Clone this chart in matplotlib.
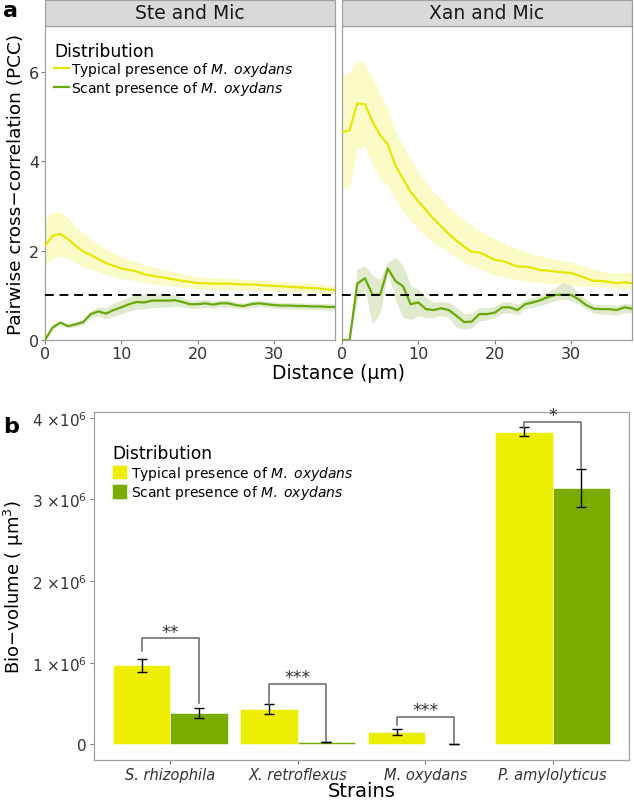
import matplotlib

matplotlib.use("Agg")
import matplotlib.pyplot as plt
from matplotlib.lines import Line2D
from matplotlib.patches import Patch, Rectangle
import numpy as np

plt.rcParams.update({
    "font.family": "DejaVu Sans",
    "mathtext.fontset": "dejavusans",
    "axes.edgecolor": "#a0a0a0",
    "axes.linewidth": 0.9,
    "xtick.color": "#7f7f7f",
    "ytick.color": "#7f7f7f",
    "xtick.labelcolor": "#333333",
    "ytick.labelcolor": "#333333",
})

YEL = "#eeee00"
GRN = "#7aac00"
YEL_LINE = "#e6e600"
GRN_LINE = "#6aa80c"
YEL_FILL = "#fbfbc8"
GRN_FILL = "#dfebcc"

LAB_TYP = r"Typical presence of $\mathit{M.\;oxydans}$"
LAB_SCA = r"Scant presence of $\mathit{M.\;oxydans}$"

# ---- panel a: pairwise cross-correlation vs distance ----
dist = np.arange(0, 39)

ste_typ = [2.11, 2.33, 2.37, 2.26, 2.11, 1.98, 1.90, 1.81, 1.72, 1.66,
           1.60, 1.57, 1.53, 1.47, 1.44, 1.41, 1.38, 1.35, 1.32, 1.30,
           1.27, 1.27, 1.26, 1.26, 1.26, 1.25, 1.24, 1.24, 1.23, 1.22,
           1.21, 1.20, 1.19, 1.18, 1.17, 1.16, 1.15, 1.13, 1.12]
ste_typ_lo = [1.66, 1.82, 1.88, 1.82, 1.72, 1.64, 1.58, 1.52, 1.46, 1.42,
              1.37, 1.35, 1.32, 1.28, 1.26, 1.24, 1.22, 1.20, 1.18, 1.16,
              1.14, 1.14, 1.13, 1.13, 1.13, 1.12, 1.12, 1.12, 1.11, 1.10,
              1.10, 1.09, 1.08, 1.07, 1.06, 1.06, 1.05, 1.04, 1.03]
ste_typ_hi = [2.71, 2.86, 2.86, 2.72, 2.54, 2.38, 2.26, 2.14, 2.03, 1.94,
              1.85, 1.80, 1.75, 1.68, 1.64, 1.60, 1.56, 1.52, 1.48, 1.45,
              1.41, 1.40, 1.39, 1.39, 1.38, 1.37, 1.36, 1.35, 1.34, 1.33,
              1.32, 1.31, 1.30, 1.29, 1.28, 1.27, 1.26, 1.23, 1.22]
ste_sca = [0.00, 0.28, 0.39, 0.31, 0.35, 0.40, 0.58, 0.64, 0.59, 0.67,
           0.73, 0.80, 0.85, 0.84, 0.88, 0.88, 0.88, 0.89, 0.85, 0.80,
           0.80, 0.82, 0.79, 0.82, 0.82, 0.78, 0.76, 0.80, 0.82, 0.80,
           0.78, 0.77, 0.77, 0.76, 0.76, 0.75, 0.75, 0.74, 0.74]
ste_sca_lo = [0.00, 0.25, 0.35, 0.27, 0.30, 0.34, 0.50, 0.54, 0.47, 0.53,
              0.58, 0.65, 0.69, 0.69, 0.72, 0.73, 0.74, 0.76, 0.74, 0.71,
              0.71, 0.73, 0.71, 0.74, 0.74, 0.71, 0.69, 0.73, 0.75, 0.73,
              0.71, 0.70, 0.70, 0.69, 0.69, 0.68, 0.68, 0.67, 0.67]
ste_sca_hi = [0.00, 0.31, 0.43, 0.35, 0.40, 0.46, 0.66, 0.74, 0.72, 0.82,
              0.89, 0.96, 1.03, 1.02, 1.04, 1.03, 1.02, 1.01, 0.96, 0.89,
              0.89, 0.91, 0.87, 0.90, 0.90, 0.85, 0.83, 0.87, 0.89, 0.87,
              0.85, 0.84, 0.84, 0.83, 0.83, 0.82, 0.82, 0.81, 0.81]

xan_typ = [4.65, 4.69, 5.29, 5.27, 4.88, 4.58, 4.37, 3.90, 3.60, 3.31,
           3.10, 2.91, 2.71, 2.54, 2.37, 2.22, 2.09, 1.97, 1.96, 1.88,
           1.79, 1.77, 1.71, 1.64, 1.64, 1.61, 1.56, 1.55, 1.53, 1.51,
           1.50, 1.44, 1.38, 1.32, 1.32, 1.30, 1.27, 1.29, 1.27]
xan_typ_lo = [3.38, 3.42, 4.24, 4.35, 3.90, 3.60, 3.46, 3.16, 2.86, 2.67,
              2.48, 2.33, 2.18, 2.07, 1.96, 1.85, 1.74, 1.66, 1.59, 1.52,
              1.44, 1.41, 1.38, 1.35, 1.32, 1.29, 1.28, 1.27, 1.26, 1.24,
              1.23, 1.22, 1.21, 1.20, 1.19, 1.17, 1.16, 1.15, 1.14]
xan_typ_hi = [5.92, 5.98, 6.28, 6.19, 5.85, 5.51, 5.18, 4.65, 4.35, 4.05,
              3.75, 3.53, 3.31, 3.15, 2.98, 2.82, 2.68, 2.56, 2.46, 2.36,
              2.26, 2.18, 2.11, 2.04, 1.98, 1.92, 1.88, 1.84, 1.80, 1.77,
              1.74, 1.69, 1.63, 1.57, 1.54, 1.51, 1.50, 1.50, 1.50]
xan_sca = [0.00, 0.00, 1.26, 1.38, 1.01, 1.01, 1.60, 1.32, 1.20, 0.80,
           0.84, 0.69, 0.67, 0.71, 0.67, 0.54, 0.40, 0.41, 0.58, 0.58,
           0.61, 0.73, 0.73, 0.67, 0.80, 0.84, 0.89, 0.96, 1.01, 1.01,
           1.01, 0.91, 0.78, 0.70, 0.69, 0.69, 0.67, 0.73, 0.70]
xan_sca_lo = [0.00, 0.00, 0.91, 1.14, 0.35, 0.61, 1.51, 0.91, 0.50, 0.46,
              0.54, 0.50, 0.50, 0.55, 0.50, 0.28, 0.24, 0.28, 0.43, 0.45,
              0.50, 0.60, 0.61, 0.56, 0.70, 0.73, 0.77, 0.83, 0.88, 0.91,
              0.88, 0.80, 0.69, 0.60, 0.58, 0.58, 0.56, 0.61, 0.61]
xan_sca_hi = [0.00, 0.00, 1.59, 1.66, 1.44, 1.36, 1.74, 1.85, 1.66, 1.21,
              1.14, 0.95, 0.84, 0.86, 0.84, 0.73, 0.58, 0.60, 0.73, 0.72,
              0.75, 0.85, 0.85, 0.79, 0.90, 0.95, 1.00, 1.08, 1.17, 1.29,
              1.22, 1.05, 0.90, 0.80, 0.79, 0.79, 0.77, 0.82, 0.80]

facets = [
    ("Ste and Mic", ste_typ, ste_typ_lo, ste_typ_hi, ste_sca, ste_sca_lo, ste_sca_hi),
    ("Xan and Mic", xan_typ, xan_typ_lo, xan_typ_hi, xan_sca, xan_sca_lo, xan_sca_hi),
]

# ---- panel b: bio-volume per strain ----
strains = ["S. rhizophila", "X. retroflexus", "M. oxydans", "P. amylolyticus"]
vol_typ = [0.97e6, 0.43e6, 0.155e6, 3.83e6]
vol_typ_err = [0.08e6, 0.06e6, 0.04e6, 0.055e6]
vol_sca = [0.385e6, 0.03e6, 0.005e6, 3.14e6]
vol_sca_err = [0.06e6, 0.005e6, 0.003e6, 0.23e6]
sig_labels = ["**", "***", "***", "*"]
sig_y = [1.30e6, 0.74e6, 0.34e6, 3.95e6]
sig_left_end = [1.14e6, 0.50e6, 0.24e6, 3.88e6]
sig_right_end = [0.51e6, 0.04e6, 0.02e6, 3.38e6]

W, H = 634, 803
fig = plt.figure(figsize=(W / 100, H / 100), dpi=100)


def box(l, t, r, b):
    return [l / W, 1 - b / H, (r - l) / W, (b - t) / H]


STRIP_H = 26 / 314  # strip height as a fraction of the facet height
axes_a = [fig.add_axes(box(45, 27, 335, 341)), fig.add_axes(box(342, 27, 632, 341))]
for i, (ax, (name, ty, tlo, thi, sc, slo, shi)) in enumerate(zip(axes_a, facets)):
    ax.fill_between(dist, tlo, thi, color=YEL_FILL, lw=0, zorder=1)
    ax.fill_between(dist, slo, shi, color=GRN_FILL, lw=0, zorder=1)
    ax.plot(dist, ty, color=YEL_LINE, lw=1.6, zorder=3)
    ax.plot(dist, sc, color=GRN_LINE, lw=1.6, zorder=3)
    ax.axhline(1, color="black", lw=1.4, ls=(0, (4.5, 3)), zorder=4)
    ax.set_xlim(0, 38)
    ax.set_ylim(0, 7.02)
    ax.set_xticks([0, 10, 20, 30])
    ax.set_yticks([0, 2, 4, 6])
    ax.tick_params(labelsize=11.5, length=3, pad=1)
    if i == 1:
        ax.tick_params(axis="y", left=False, labelleft=False)
    # facet strip
    ax.add_patch(Rectangle((0, 1), 1, STRIP_H, transform=ax.transAxes, clip_on=False,
                           fc="#d9d9d9", ec="#a0a0a0", lw=0.9, zorder=5))
    ax.text(0.5, 1 + STRIP_H / 2, name, transform=ax.transAxes, ha="center",
            va="center", fontsize=13.5, color="#1a1a1a", zorder=6)
axes_a[0].set_ylabel("Pairwise cross\u2212correlation (PCC)", fontsize=13.3, labelpad=3)
fig.text((45 + 632) / 2 / W, 1 - 374 / H, "Distance (\u03bcm)", ha="center", va="center",
         fontsize=13.5)

axes_a[0].legend(
    handles=[Line2D([], [], color=YEL_LINE, lw=1.6), Line2D([], [], color=GRN_LINE, lw=1.6)],
    labels=[LAB_TYP, LAB_SCA], title="Distribution", loc="upper left",
    bbox_to_anchor=(54 / W, 1 - 43 / H), bbox_transform=fig.transFigure,
    frameon=False, fontsize=10, title_fontsize=12.3, handlelength=1.1,
    handletextpad=0.15, labelspacing=0.02, borderpad=0, borderaxespad=0,
    alignment="left")

fig.text(3 / W, 1 - 11 / H, "a", fontsize=16, fontweight="bold", va="center")

# ---- panel b ----
axb = fig.add_axes(box(94, 413, 629, 761))
x = np.arange(len(strains))
bw = 0.45
axb.bar(x - bw / 2, vol_typ, bw, color=YEL, edgecolor="white", lw=0.4, zorder=2)
axb.bar(x + bw / 2, vol_sca, bw, color=GRN, edgecolor="white", lw=0.4, zorder=2)
axb.errorbar(x - bw / 2, vol_typ, yerr=vol_typ_err, fmt="none", ecolor="black",
             elinewidth=1.0, capsize=3.5, capthick=1.0, zorder=3)
axb.errorbar(x + bw / 2, vol_sca, yerr=vol_sca_err, fmt="none", ecolor="black",
             elinewidth=1.0, capsize=3.5, capthick=1.0, zorder=3)
for i in range(len(strains)):
    xl, xr = x[i] - bw / 2, x[i] + bw / 2
    axb.plot([xl, xl, xr, xr], [sig_left_end[i], sig_y[i], sig_y[i], sig_right_end[i]],
             color="#666666", lw=1.1, zorder=4)
    axb.text(x[i], sig_y[i] - 0.03e6, sig_labels[i], ha="center", va="bottom",
             fontsize=12.5, color="#333333", zorder=4)
axb.set_xlim(-0.6, 3.6)
axb.set_ylim(-0.19e6, 4.07e6)
axb.set_xticks(x)
axb.set_xticklabels(strains, fontstyle="italic", fontsize=10.5)
axb.set_yticks([0, 1e6, 2e6, 3e6, 4e6])
axb.set_yticklabels(["0"] + [r"$%d\ {\times}10^{6}$" % k for k in range(1, 5)],
                    fontsize=11)
axb.tick_params(length=3, pad=2)
axb.set_xlabel("Strains", fontsize=14, labelpad=-1)
axb.set_ylabel(r"Bio$-$volume ( $\mathregular{\mu m^3}$)", fontsize=13, labelpad=4)

axb.legend(
    handles=[Patch(fc=YEL, ec="white", lw=0.4), Patch(fc=GRN, ec="white", lw=0.4)],
    labels=[LAB_TYP, LAB_SCA], title="Distribution", loc="upper left",
    bbox_to_anchor=(112 / W, 1 - 445 / H), bbox_transform=fig.transFigure,
    frameon=False, fontsize=10, title_fontsize=12.3, handlelength=1.05,
    handleheight=1.25, handletextpad=0.3, labelspacing=0.12, borderpad=0,
    borderaxespad=0, alignment="left")

fig.text(3 / W, 1 - 427 / H, "b", fontsize=16, fontweight="bold", va="center")

fig.savefig("out.png", dpi=100)
